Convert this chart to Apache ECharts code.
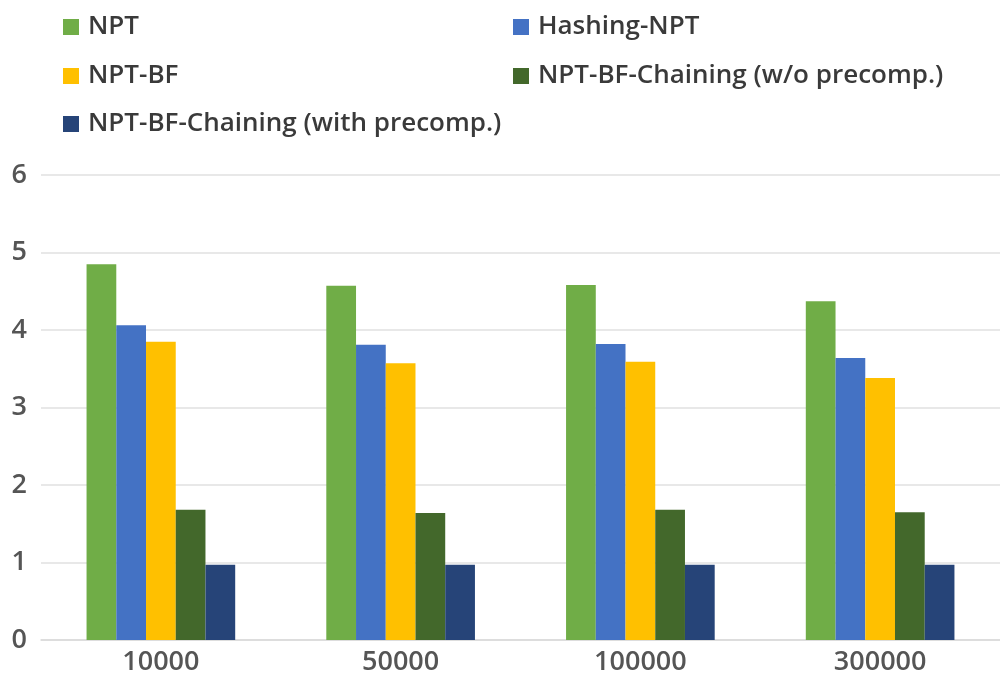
<!DOCTYPE html>
<html><head><meta charset="utf-8">
<script src="https://cdn.jsdelivr.net/npm/echarts@6/dist/echarts.min.js"></script>
<style>html,body{margin:0;padding:0;background:#fff}#c{width:1000px;height:678px}</style>
</head><body><div id="c"></div>
<script>
const categories = ['10000', '50000', '100000', '300000'];
const seriesNames = ['NPT', 'Hashing-NPT', 'NPT-BF', 'NPT-BF-Chaining (w/o precomp.)', 'NPT-BF-Chaining (with precomp.)'];
const npt = [4.85, 4.57, 4.58, 4.37];
const hashingNpt = [4.06, 3.81, 3.82, 3.64];
const nptBf = [3.85, 3.57, 3.59, 3.38];
const chainingWo = [1.68, 1.64, 1.68, 1.65];
const chainingWith = [0.97, 0.97, 0.97, 0.97];
const yTicks = [0, 1, 2, 3, 4, 5, 6];

const values = [npt, hashingNpt, nptBf, chainingWo, chainingWith];
const colors = ['#70AD47', '#4472C4', '#FFC000', '#43682B', '#264478'];
const legendPos = [[58, 9], [508, 9], [58, 58], [508, 58], [58, 106]];

const chart = echarts.init(document.getElementById('c'));
chart.setOption({
  backgroundColor: '#fff',
  animation: false,
  color: colors,
  legend: seriesNames.map((n, i) => ({
    data: [n], left: legendPos[i][0], top: legendPos[i][1],
    itemWidth: 16, itemHeight: 16, icon: 'rect', itemGap: 8,
    formatter: '{t|{name}}',
    textStyle: {
      fontFamily: 'Open Sans', fontSize: 26, fontWeight: 600, color: '#3a3a3a',
      rich: { t: { fontFamily: 'Open Sans', fontSize: 26, fontWeight: 600, color: '#3a3a3a', padding: [0, 0, 0, 4] } }
    }
  })),
  grid: { left: 41, width: 968, top: 175, bottom: 38 },
  xAxis: {
    type: 'category', data: categories,
    axisLine: { lineStyle: { color: '#d9d9d9', width: 1.5 } },
    axisTick: { show: false },
    axisLabel: { fontFamily: 'Open Sans', fontSize: 27, fontWeight: 600, color: '#555', margin: 9 }
  },
  yAxis: {
    type: 'value', min: yTicks[0], max: yTicks[yTicks.length - 1], interval: 1,
    axisLine: { show: false }, axisTick: { show: false },
    splitLine: { lineStyle: { color: '#e0e0e0', width: 1.5 } },
    axisLabel: { fontFamily: 'Open Sans', fontSize: 27, fontWeight: 600, color: '#555', margin: 14 }
  },
  series: seriesNames.map((n, i) => ({
    name: n, type: 'bar', data: values[i],
    barGap: '0%', barCategoryGap: '38%',
    itemStyle: { color: colors[i] }
  }))
});
</script></body></html>
